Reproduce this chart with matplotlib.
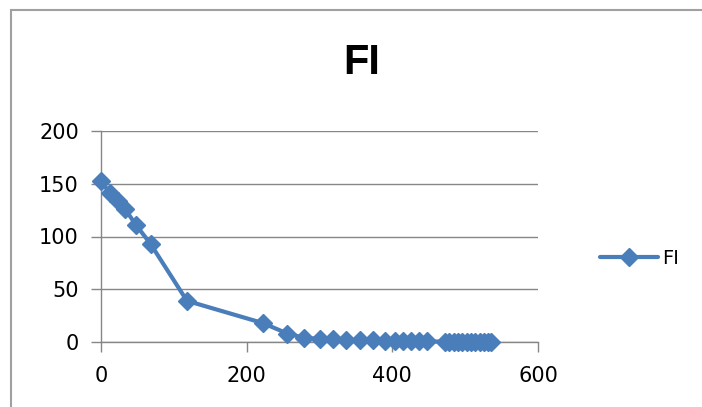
import matplotlib.pyplot as plt
from matplotlib.patches import Rectangle

# FI values
time_x = [0, 12, 23, 33, 48, 68, 118, 222, 256, 279, 300, 318, 337, 355, 373,
          390, 403, 414, 426, 437, 448,
          472, 478, 484, 490, 496, 502, 508, 514, 520, 526, 532, 536]
fi_y = [153, 141, 134, 126, 111, 93, 39, 18, 8, 4, 3, 2.5, 2, 1.5, 1.5,
        1, 1, 1, 0.8, 0.6, 0.5,
        0.4, 0.4, 0.3, 0.3, 0.3, 0.2, 0.2, 0.2, 0.1, 0.1, 0.1, 0.1]
x_ticks = [0, 200, 400, 600]
y_ticks = [0, 50, 100, 150, 200]

blue = '#4a7ebb'
gray = '#868686'

fig = plt.figure(figsize=(7.02, 4.07), dpi=100)
plt.rcParams['font.family'] = ['DejaVu Sans']

# chart area border (runs off the right and bottom edges)
fig.patches.append(Rectangle((11 / 702, -0.1), 1.0, (407 - 10) / 407 + 0.1,
                             transform=fig.transFigure, fill=False,
                             edgecolor='#a0a0a0', linewidth=1.5))

ax = fig.add_axes([101 / 702, 65 / 407, 437 / 702, 211 / 407])
ax.plot(time_x, fi_y, color=blue, linewidth=3, marker='D', markersize=9.5,
        label='FI', solid_capstyle='round', clip_on=False, zorder=3)

ax.set_xlim(0, 600)
ax.set_ylim(0, 200)
ax.set_xticks(x_ticks)
ax.set_yticks(y_ticks)
ax.tick_params(axis='both', labelsize=15, color=gray, length=7, width=1)
ax.tick_params(axis='y', pad=9)
ax.tick_params(axis='x', pad=10)
ax.grid(axis='y', color=gray, linewidth=1)
ax.set_axisbelow(True)
for s in ['top', 'right']:
    ax.spines[s].set_visible(False)
for s in ['left', 'bottom']:
    ax.spines[s].set_color(gray)
    ax.spines[s].set_linewidth(1)

fig.text(362 / 702, 1 - 63 / 407, 'FI', fontsize=30, fontweight='bold',
         ha='center', va='center', family='Liberation Sans')

fig.legend(loc='center left', bbox_to_anchor=(582 / 702, 1 - 258 / 407),
           frameon=False, fontsize=14, handlelength=3.0, handletextpad=0.2)

fig.savefig('out.png', dpi=100)
